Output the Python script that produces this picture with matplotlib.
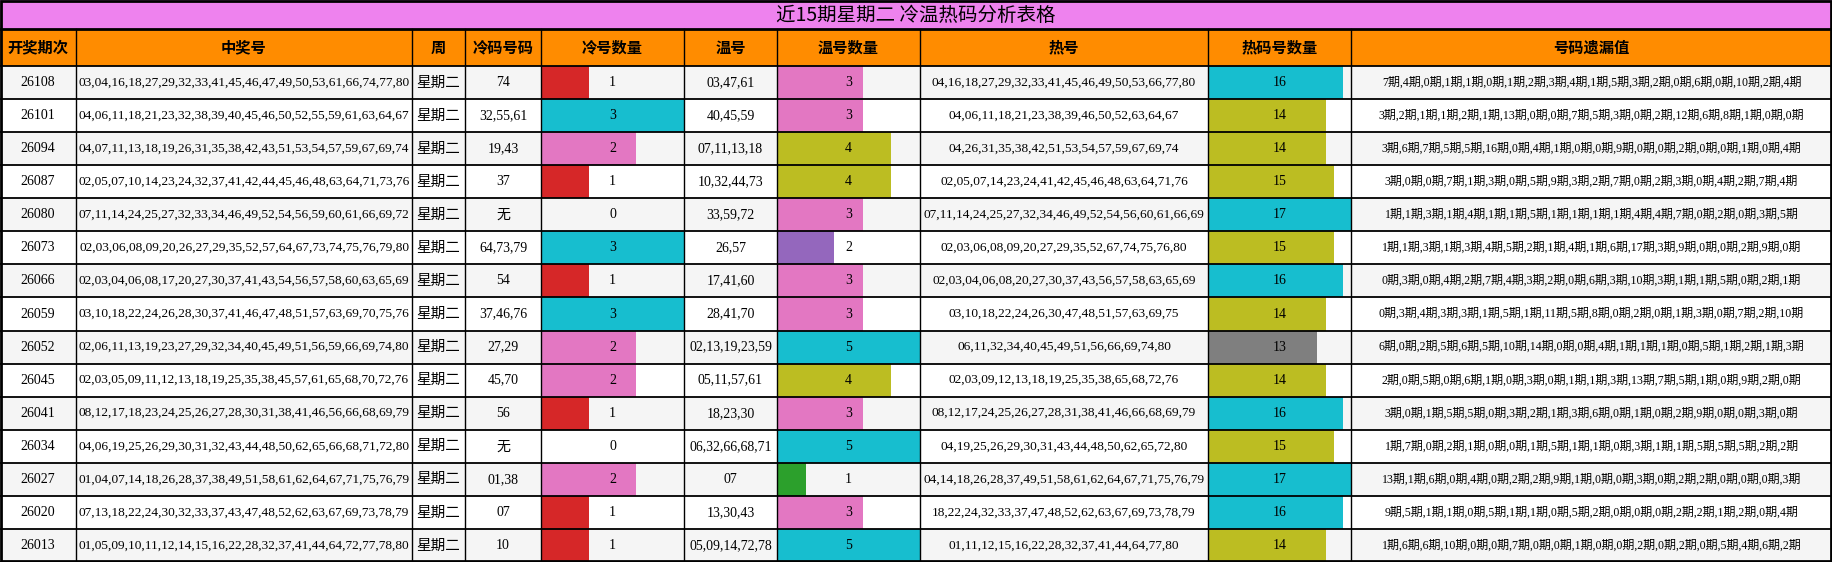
import matplotlib.pyplot as plt
from matplotlib.patches import Rectangle

plt.rcParams['font.family'] = ['Liberation Serif', 'Noto Sans CJK SC']

title = "近15期星期二 冷温热码分析表格"
headers = ["开奖期次", "中奖号", "周", "冷码号码", "冷号数量", "温号", "温号数量", "热号", "热码号数量", "号码遗漏值"]

periods = ["26108", "26101", "26094", "26087", "26080", "26073", "26066", "26059",
           "26052", "26045", "26041", "26034", "26027", "26020", "26013"]
winning = [
    "03,04,16,18,27,29,32,33,41,45,46,47,49,50,53,61,66,74,77,80",
    "04,06,11,18,21,23,32,38,39,40,45,46,50,52,55,59,61,63,64,67",
    "04,07,11,13,18,19,26,31,35,38,42,43,51,53,54,57,59,67,69,74",
    "02,05,07,10,14,23,24,32,37,41,42,44,45,46,48,63,64,71,73,76",
    "07,11,14,24,25,27,32,33,34,46,49,52,54,56,59,60,61,66,69,72",
    "02,03,06,08,09,20,26,27,29,35,52,57,64,67,73,74,75,76,79,80",
    "02,03,04,06,08,17,20,27,30,37,41,43,54,56,57,58,60,63,65,69",
    "03,10,18,22,24,26,28,30,37,41,46,47,48,51,57,63,69,70,75,76",
    "02,06,11,13,19,23,27,29,32,34,40,45,49,51,56,59,66,69,74,80",
    "02,03,05,09,11,12,13,18,19,25,35,38,45,57,61,65,68,70,72,76",
    "08,12,17,18,23,24,25,26,27,28,30,31,38,41,46,56,66,68,69,79",
    "04,06,19,25,26,29,30,31,32,43,44,48,50,62,65,66,68,71,72,80",
    "01,04,07,14,18,26,28,37,38,49,51,58,61,62,64,67,71,75,76,79",
    "07,13,18,22,24,30,32,33,37,43,47,48,52,62,63,67,69,73,78,79",
    "01,05,09,10,11,12,14,15,16,22,28,32,37,41,44,64,72,77,78,80",
]
weekday = "星期二"
cold_codes = ["74", "32,55,61", "19,43", "37", "无", "64,73,79", "54", "37,46,76",
              "27,29", "45,70", "56", "无", "01,38", "07", "10"]
cold_counts = [1, 3, 2, 1, 0, 3, 1, 3, 2, 2, 1, 0, 2, 1, 1]
warm_codes = ["03,47,61", "40,45,59", "07,11,13,18", "10,32,44,73", "33,59,72", "26,57",
              "17,41,60", "28,41,70", "02,13,19,23,59", "05,11,57,61", "18,23,30",
              "06,32,66,68,71", "07", "13,30,43", "05,09,14,72,78"]
warm_counts = [3, 3, 4, 4, 3, 2, 3, 3, 5, 4, 3, 5, 1, 3, 5]
hot_codes = [
    "04,16,18,27,29,32,33,41,45,46,49,50,53,66,77,80",
    "04,06,11,18,21,23,38,39,46,50,52,63,64,67",
    "04,26,31,35,38,42,51,53,54,57,59,67,69,74",
    "02,05,07,14,23,24,41,42,45,46,48,63,64,71,76",
    "07,11,14,24,25,27,32,34,46,49,52,54,56,60,61,66,69",
    "02,03,06,08,09,20,27,29,35,52,67,74,75,76,80",
    "02,03,04,06,08,20,27,30,37,43,56,57,58,63,65,69",
    "03,10,18,22,24,26,30,47,48,51,57,63,69,75",
    "06,11,32,34,40,45,49,51,56,66,69,74,80",
    "02,03,09,12,13,18,19,25,35,38,65,68,72,76",
    "08,12,17,24,25,26,27,28,31,38,41,46,66,68,69,79",
    "04,19,25,26,29,30,31,43,44,48,50,62,65,72,80",
    "04,14,18,26,28,37,49,51,58,61,62,64,67,71,75,76,79",
    "18,22,24,32,33,37,47,48,52,62,63,67,69,73,78,79",
    "01,11,12,15,16,22,28,32,37,41,44,64,77,80",
]
hot_counts = [16, 14, 14, 15, 17, 15, 16, 14, 13, 14, 16, 15, 17, 16, 14]
omission = [
    "7期,4期,0期,1期,1期,0期,1期,2期,3期,4期,1期,5期,3期,2期,0期,6期,0期,10期,2期,4期",
    "3期,2期,1期,1期,2期,1期,13期,0期,0期,7期,5期,3期,0期,2期,12期,6期,8期,1期,0期,0期",
    "3期,6期,7期,5期,5期,16期,0期,4期,1期,0期,0期,9期,0期,0期,2期,0期,0期,1期,0期,4期",
    "3期,0期,0期,7期,1期,3期,0期,5期,9期,3期,2期,7期,0期,2期,3期,0期,4期,2期,7期,4期",
    "1期,1期,3期,1期,4期,1期,1期,5期,1期,1期,1期,1期,4期,4期,7期,0期,2期,0期,3期,5期",
    "1期,1期,3期,1期,3期,4期,5期,2期,1期,4期,1期,6期,17期,3期,9期,0期,0期,2期,9期,0期",
    "0期,3期,0期,4期,2期,7期,4期,3期,2期,0期,6期,3期,10期,3期,1期,1期,5期,0期,2期,1期",
    "0期,3期,4期,3期,3期,1期,5期,1期,11期,5期,8期,0期,2期,0期,1期,3期,0期,7期,2期,10期",
    "6期,0期,2期,5期,6期,5期,10期,14期,0期,0期,4期,1期,1期,1期,0期,5期,1期,2期,1期,3期",
    "2期,0期,5期,0期,6期,1期,0期,3期,0期,1期,1期,3期,13期,7期,5期,1期,0期,9期,2期,0期",
    "3期,0期,1期,5期,5期,0期,3期,2期,1期,3期,6期,0期,1期,0期,2期,9期,0期,0期,3期,0期",
    "1期,7期,0期,2期,1期,0期,0期,1期,5期,1期,1期,0期,3期,1期,1期,5期,5期,5期,2期,2期",
    "13期,1期,6期,0期,4期,0期,2期,2期,9期,1期,0期,0期,3期,0期,2期,2期,0期,0期,0期,3期",
    "9期,5期,1期,1期,0期,5期,1期,1期,0期,5期,2期,0期,0期,0期,2期,2期,1期,2期,0期,4期",
    "1期,6期,6期,10期,0期,0期,7期,0期,0期,1期,0期,0期,2期,0期,2期,0期,5期,4期,6期,2期",
]

cold_colors = {1: "#d62728", 2: "#e377c2", 3: "#17becf"}
warm_colors = {1: "#2ca02c", 2: "#9467bd", 3: "#e377c2", 4: "#bcbd22", 5: "#17becf"}
hot_colors = {13: "#7f7f7f", 14: "#bcbd22", 15: "#bcbd22", 16: "#17becf", 17: "#17becf"}

W, H = 1832, 562
col_x = [0, 76, 412, 465, 541, 684, 777, 920, 1208, 1351, 1832]
title_h, head_h = 29, 37
row_h = (H - title_h - head_h) / len(periods)

fig = plt.figure(figsize=(W / 100, H / 100), dpi=100)
ax = fig.add_axes([0, 0, 1, 1])
ax.set_xlim(0, W)
ax.set_ylim(H, 0)
ax.axis("off")

# 标题
ax.add_patch(Rectangle((0, 0), W, title_h, facecolor="#ee82ee", edgecolor="none"))
ax.text(W / 2, title_h / 2 + 1, title, ha="center", va="center", fontsize=14,
        family=["Noto Sans CJK SC", "DejaVu Sans"])

# 表头
y0 = title_h
ax.add_patch(Rectangle((0, y0), W, head_h, facecolor="#ff8c00", edgecolor="none"))
for i, h in enumerate(headers):
    ax.text((col_x[i] + col_x[i + 1]) / 2, y0 + head_h / 2, h, ha="center", va="center",
            fontsize=11, fontweight="bold", family=["Noto Sans CJK SC", "DejaVu Sans"])


def bar_cell(ci, y, val, vmax, colors):
    x0, x1 = col_x[ci], col_x[ci + 1]
    if val in colors:
        ax.add_patch(Rectangle((x0, y), (x1 - x0) * val / vmax, row_h,
                               facecolor=colors[val], edgecolor="none"))
    ax.text((x0 + x1) / 2, y + row_h / 2, str(val), ha="center", va="center", fontsize=10)


for r in range(len(periods)):
    y = title_h + head_h + r * row_h
    bg = "#f5f5f5" if r % 2 == 0 else "white"
    ax.add_patch(Rectangle((0, y), W, row_h, facecolor=bg, edgecolor="none"))
    texts = {0: periods[r], 1: winning[r], 2: weekday, 3: cold_codes[r],
             5: warm_codes[r], 7: hot_codes[r], 9: omission[r]}
    sizes = {1: 9.6, 7: 9.6, 9: 8.6}
    for ci, t in texts.items():
        fam = ["Noto Sans CJK SC", "DejaVu Sans"] if ci == 2 or t == "无" else ["Liberation Serif", "Noto Sans CJK SC"]
        ax.text((col_x[ci] + col_x[ci + 1]) / 2, y + row_h / 2, t, ha="center", va="center",
                fontsize=sizes.get(ci, 10.5 if ci == 2 else 10), family=fam)
    bar_cell(4, y, cold_counts[r], 3, cold_colors)
    bar_cell(6, y, warm_counts[r], 5, warm_colors)
    bar_cell(8, y, hot_counts[r], 17, hot_colors)

# 网格线
for k in range(len(periods) + 1):
    yy = title_h + head_h + k * row_h
    ax.plot([0, W], [yy, yy], color="black", lw=1.3)
ax.plot([0, W], [title_h, title_h], color="black", lw=2)
for x in col_x[1:-1]:
    ax.plot([x, x], [title_h, H], color="black", lw=1)
ax.add_patch(Rectangle((1, 1), W - 2, H - 2, facecolor="none", edgecolor="black", lw=2))

fig.savefig("out.png", dpi=100)
